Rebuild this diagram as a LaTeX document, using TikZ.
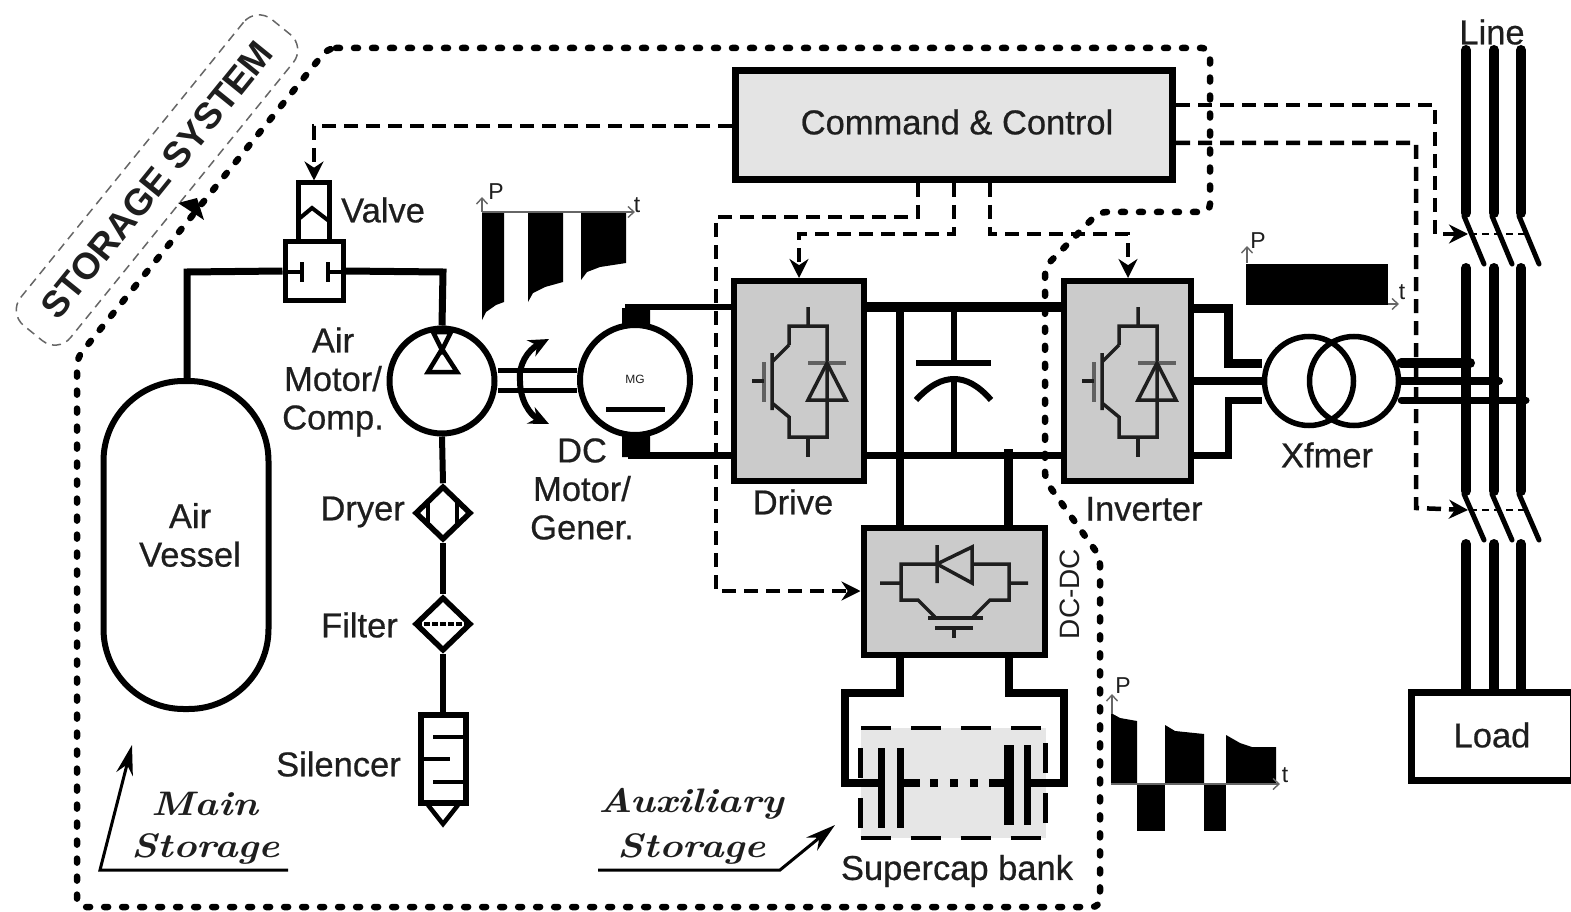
\documentclass[tikz,border=0pt]{standalone}
\usepackage{fontspec}
\setsansfont{Liberation Sans}
\usepackage{tikz}
\usetikzlibrary{arrows.meta,positioning,shapes.geometric}
\definecolor{ctrlgray}{RGB}{228,228,228}
\definecolor{convgray}{RGB}{203,203,203}
\definecolor{bankgray}{RGB}{230,230,230}
\definecolor{inkdark}{RGB}{30,30,30}
\newcommand{\fs}[1]{\fontsize{#1}{#1}\selectfont}
\newcommand{\igbtsym}[1]{%
  \begin{scope}[shift={(#1,0)},line width=3.5pt,draw=inkdark]
    \draw (808,307)--(808,326) (789,345)--(789,326)--(827,326)--(827,437)--(789,437)--(789,417)--(772,403);
    \draw (789,345)--(772,362) (772,353)--(772,410);
    \draw[line width=4pt,draw=inkdark!70] (764,362)--(764,402);
    \draw (752,381)--(764,381) (808,437)--(808,457);
    \draw[line width=4pt,draw=inkdark!70] (808,363)--(846,363);
    \draw (827,363)--(808,400)--(846,400)--cycle;
  \end{scope}}
\begin{document}
\begin{tikzpicture}[x=1pt,y=-1pt,font=\sffamily\fs{34.5}\addfontfeatures{FakeBold=0.6},text=inkdark,
    lbl/.style={align=center,inner sep=0pt},
    small/.style={inner sep=0pt,font=\sffamily\fs{23}},
    boxc/.style={draw,line width=6pt,fill=convgray,inner sep=0pt},
    pipe/.style={line width=7pt},
    thin pipe/.style={line width=6pt},
    ctl/.style={line width=4.5pt,dash pattern=on 14pt off 8pt},
    tip/.style={-{Stealth[length=19pt,width=19pt]}},
    bound/.style={line width=6.5pt,line cap=round,dash pattern=on 4pt off 14pt,rounded corners=8pt},
    axis/.style={line width=1.4pt,draw=black!60,-{Straight Barb[length=6pt,width=11pt]}},
    storelbl/.style={inner sep=0pt,xscale=1.17,font=\rmfamily\itshape\bfseries\fs{34}}]
  \useasboundingbox (0,0) rectangle (1571,912);

  \node[draw,dashed,draw=black!60,line width=1.5pt,dash pattern=on 9pt off 6pt,rounded corners=20pt,
    rotate=51,minimum width=394pt,minimum height=64pt,font=\sffamily\bfseries\fs{37}] (storage) at (157,180) {STORAGE SYSTEM};
  \draw[bound] (328,48)--(1210,48)--(1210,212)--(1099,212)--(1045,267)--(1045,480)--(1100,557)--(1100,907)--(77,907)--(77,358)--cycle;
  \fill (178,203)--(197,198)--(204,220)--cycle;

  \node[draw,line width=7pt,fill=ctrlgray,minimum width=437pt,minimum height=109pt,inner sep=0pt] (ctrl) at (954,125) {};
  \node[lbl] (ctrltext) at (957,122) {Command \& Control};

  \node[draw,line width=6pt,minimum width=165pt,minimum height=328pt,rounded corners=80pt,inner sep=0pt,
    align=center] (vessel) at (186,545) {};
  \node[lbl,text width=120pt] (vesseltext) at (190,535) {Air\\[4pt]Vessel};

  \node[draw,line width=5pt,minimum width=31pt,minimum height=58pt,inner sep=0pt] (coil) at (314,212) {};
  \node[draw,line width=5pt,minimum width=58pt,minimum height=59pt,inner sep=0pt] (valve) at (314,271) {};
  \draw[line width=4pt] (300,218)--(312,208)--(329,221);
  \draw[line width=4pt] (285,272)--(302,272) (302,262)--(302,282) (343,272)--(328,272) (328,262)--(328,282);
  \node[lbl,anchor=west] (valvelbl) at (341,210) {Valve};

  \node[circle,draw,line width=6pt,minimum size=105pt,inner sep=0pt] (airmotor) at (442,381) {};
  \draw[line width=4.5pt] (433,332)--(451,332)--(442,350)--cycle (428,372)--(457,372)--(442,349)--cycle;
  \node[lbl] (airmotorlbl) at (333,382) {Air\\[4pt]Motor/\\[4pt]Comp.};

  \draw[pipe] (valve.west)--(187,272)--(vessel.north -| 187,0);
  \draw[pipe] (valve.east)--(443,272)--(airmotor.north);

  \node[diamond,draw,line width=5.5pt,minimum width=56pt,minimum height=54pt,shape aspect=1.05,inner sep=0pt] (dryer) at (443,513) {};
  \draw[line width=3.5pt] (428,500)--(428,526) (457,500)--(457,526);
  \node[diamond,draw,line width=5.5pt,minimum width=56pt,minimum height=54pt,shape aspect=1.05,inner sep=0pt] (filter) at (443,624) {};
  \draw[line width=3.5pt,dash pattern=on 6pt off 2pt] (416,624)--(470,624);
  \node[draw,line width=6pt,minimum width=45pt,minimum height=88pt,inner sep=0pt] (silencer) at (443,759) {};
  \draw[line width=4.5pt] (433,737)--(465,737) (420,759)--(450,759) (433,782)--(465,782);
  \draw[line width=4.5pt] (428,805)--(443,824)--(458,805);
  \draw[thin pipe] (airmotor.south)--(dryer.north);
  \draw[thin pipe] (dryer.south)--(filter.north);
  \draw[thin pipe] (filter.south)--(silencer.north);
  \node[lbl,anchor=east] (dryerlbl) at (405,512) {Dryer};
  \node[lbl,anchor=east] (filterlbl) at (398,625) {Filter};
  \node[lbl,anchor=east] (silencerlbl) at (401,764) {Silencer};

  \node[circle,draw,line width=6pt,minimum size=110pt,inner sep=0pt] (dcmotor) at (635,380) {};
  \node[inner sep=0pt,font=\sffamily\fs{12}] (mg) at (635,379) {MG};
  \draw[line width=5pt] (606,409)--(665,409);
  \fill (622,308) rectangle (650,327) (622,435) rectangle (650,457);
  \draw[line width=5pt] (airmotor.east |- 0,370)--(dcmotor.west |- 0,370) (airmotor.east |- 0,390)--(dcmotor.west |- 0,390);
  \draw[line width=6pt,{Stealth[length=20pt,width=18pt]}-{Stealth[length=20pt,width=18pt]}]
    (549,339) .. controls (528,350) and (518,365) .. (520,381) .. controls (520,400) and (530,415) .. (549,424);
  \node[lbl] (dcmotorlbl) at (582,489) {DC\\[4pt]Motor/\\[4pt]Gener.};

  \node[boxc,minimum width=130pt,minimum height=200pt] (drive) at (799,381) {};
  \igbtsym{0}
  \node[lbl] (drivelbl) at (793,502) {Drive};
  \node[boxc,minimum width=127pt,minimum height=200pt] (inverter) at (1127.5,381) {};
  \igbtsym{330}
  \node[lbl] (inverterlbl) at (1144,509) {Inverter};
  \node[boxc,minimum width=181pt,minimum height=127pt] (dcdc) at (954,591) {};
  \node[lbl,rotate=90,font=\sffamily\fs{28}] (dcdclbl) at (1070,594) {DC-DC};

  \begin{scope}[line width=3.5pt,draw=inkdark]
    \draw (880,583)--(901,583) (937,564)--(901,564)--(901,600)--(918,600)--(935,617);
    \draw (972,564)--(1009,564)--(1009,600)--(990,600)--(973,617) (1009,583)--(1028,583);
    \draw (937,545)--(937,583) (937,564)--(972,547)--(972,583)--cycle;
    \draw[line width=4.5pt] (928,618)--(983,618);
    \draw (935,628)--(973,628) (954,628)--(954,638);
  \end{scope}

  \draw[line width=6pt] (dcmotor.north -| 628,0)--(628,307)--(drive.west |- 0,307);
  \draw[line width=7pt] (628,455)--(drive.west |- 0,455);
  \draw[line width=10pt] (drive.east |- 0,307)--(inverter.west |- 0,307);
  \draw[line width=7pt] (drive.east |- 0,455)--(inverter.west |- 0,455);
  \draw[line width=8pt] (900,304)--(dcdc.north -| 900,0);
  \draw[line width=9pt] (1008,449)--(dcdc.north -| 1008,0);
  \node[inner sep=0pt] (dcbus) at (954,307) {};
  \draw[line width=6pt] (dcbus)--(954,363) (916,363)--(991,363) (954,379)--(954,455);
  \draw[line width=6pt] (916,400) .. controls (930,385) and (942,379) .. (954,379) .. controls (966,379) and (978,385) .. (991,400);

  \node[circle,draw,line width=5.5pt,minimum size=89pt,inner sep=0pt] (xfmerl) at (1309,381) {};
  \node[circle,draw,line width=5.5pt,minimum size=89pt,inner sep=0pt] (xfmerr) at (1354,381) {};
  \node[lbl] (xfmerlbl) at (1327,455) {Xfmer};
  \draw[line width=9pt] (inverter.east |- 0,308)--(1228,308)--(1228,363)--(xfmerl.west |- 0,363);
  \draw[line width=8pt] (inverter.east |- 0,381)--(xfmerl.west |- 0,381);
  \draw[line width=7pt] (inverter.east |- 0,455)--(1228,455)--(1228,400)--(xfmerl.west |- 0,400);

  \foreach \bx in {1466,1494,1521}{
    \draw[line width=10pt,line cap=round] (\bx,50)--(\bx,213) (\bx,268)--(\bx,491) (\bx,544)--(\bx,690);
    \draw[line width=5pt,line cap=round] (\bx-2,216)--(\bx+18,264) (\bx-2,494)--(\bx+18,540);
  }
  \draw[line width=10pt,line cap=round] (xfmerr.east |- 0,363)--(1470,363);
  \draw[line width=8pt,line cap=round] (xfmerr.east |- 0,381)--(1499,381);
  \draw[line width=7pt,line cap=round] (xfmerr.east |- 0,400)--(1526,400);
  \draw[line width=2pt,dashed,dash pattern=on 7pt off 5pt] (1470,234)--(1527,234) (1470,510)--(1527,510);
  \node[lbl] (linelbl) at (1492,32) {Line};
  \node[draw,line width=7pt,minimum width=162pt,minimum height=88pt,inner sep=0pt] (load) at (1492,736) {};
  \node[lbl] (loadlbl) at (1492,735) {Load};

  \coordinate (swtop) at (1468,234);
  \coordinate (swbot) at (1468,510);
  \draw[ctl,tip] (ctrl.west |- 0,126)--(314,126)--(coil.north);
  \draw[ctl,tip] (918,0 |- ctrl.south)--(918,217)--(716,217)--(716,591)--(dcdc.west |- 0,591);
  \draw[ctl,tip] (954,0 |- ctrl.south)--(954,234)--(799,234)--(drive.north -| 799,0);
  \draw[ctl,tip] (990,0 |- ctrl.south)--(990,234)--(1128,234)--(inverter.north -| 1128,0);
  \draw[ctl,tip] (ctrl.east |- 0,105)--(1435,105)--(1435,234)--(swtop);
  \draw[ctl,tip] (ctrl.east |- 0,143)--(1416,143)--(1416,508)--(swbot);

  \node[draw,line width=4.5pt,fill=bankgray,dash pattern=on 30pt off 20pt,minimum width=185pt,minimum height=110pt,inner sep=0pt] (bank) at (953,783) {};
  \draw[line width=7.5pt] (dcdc.south -| 900,0)--(900,693)--(845,693)--(845,783)--(878,783);
  \draw[line width=7.5pt] (dcdc.south -| 1009,0)--(1009,693)--(1064,693)--(1064,783)--(1030,783);
  \draw[line width=7pt] (881,748)--(881,828) (900,748)--(900,828) (1027,745)--(1027,825);
  \draw[line width=10pt] (1009,745)--(1009,825);
  \draw[line width=7.5pt] (900,783)--(920,783) (989,783)--(1009,783);
  \draw[line width=7.5pt,dash pattern=on 8pt off 12pt] (930,783)--(985,783);
  \node[lbl] (banklbl) at (957,871) {Supercap bank};

  \fill (482,212) rectangle (504,302) (482,320)--(486,312)--(496,305)--(504,302)--(504,212)--(482,212)--cycle;
  \fill (528,212) rectangle (563,282) (528,302)--(533,293)--(545,287)--(563,282)--(563,212)--(528,212)--cycle;
  \fill (581,212) rectangle (626,263) (581,280)--(587,272)--(600,267)--(626,263)--(626,212)--(581,212)--cycle;
  \coordinate (pa) at (482,212);
  \draw[axis] (pa)--(482,197);
  \draw[axis] (pa)--(635,212);
  \node[small] (pone) at (496,192) {P};
  \node[small] (tone) at (637,205) {t};

  \fill (1246,264) rectangle (1388,305);
  \draw[axis] (1247,263)--(1247,246);
  \draw[axis] (1388,304)--(1399,304);
  \node[small] (ptwo) at (1258,241) {P};
  \node[small] (ttwo) at (1402,292) {t};

  \fill (1111,784)--(1111,713)--(1120,718)--(1137,721)--(1137,784)--cycle;
  \fill (1137,784) rectangle (1165,831);
  \fill (1165,784)--(1165,725)--(1175,731)--(1204,734)--(1204,784)--cycle;
  \fill (1204,784) rectangle (1226,831);
  \fill (1226,784)--(1226,735)--(1240,743)--(1252,747)--(1276,747)--(1276,784)--cycle;
  \coordinate (pc) at (1111,784);
  \draw[axis] (1112,714)--(1112,694);
  \draw[axis] (pc)--(1280,784);
  \node[small] (pthree) at (1123,686) {P};
  \node[small] (tthree) at (1285,775) {t};

  \node[storelbl] (mainone) at (205,804) {Main};
  \node[storelbl] (maintwo) at (206,849) {Storage};
  \coordinate (mainstart) at (288,870);
  \coordinate (mainelbow) at (100,870);
  \coordinate (maintip) at (132,745);
  \draw[line width=3pt,-{Stealth[length=30pt,width=17pt]}] (mainstart)--(mainelbow)--(maintip);

  \node[storelbl] (auxone) at (691,804) {Auxiliary};
  \node[storelbl] (auxtwo) at (692,849) {Storage};
  \coordinate (auxstart) at (598,870);
  \coordinate (auxelbow) at (780,870);
  \coordinate (auxtip) at (835,825);
  \draw[line width=3pt,-{Stealth[length=30pt,width=17pt]}] (auxstart)--(auxelbow)--(auxtip);
\end{tikzpicture}
\end{document}
